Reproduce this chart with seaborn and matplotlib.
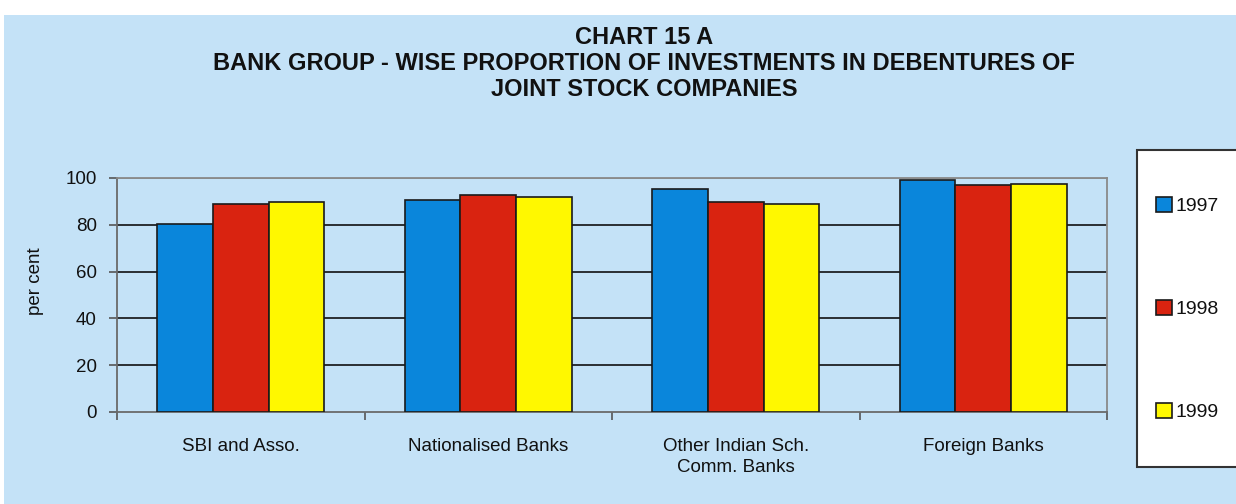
import matplotlib
matplotlib.use("Agg")
import matplotlib.pyplot as plt
from matplotlib.patches import Rectangle
import seaborn as sns
import pandas as pd

groups = ["SBI and Asso.", "Nationalised Banks", "Other Indian Sch.\nComm. Banks", "Foreign Banks"]
years = ["1997", "1998", "1999"]
v1997 = [80.2, 90.4, 95.2, 99.1]
v1998 = [88.7, 92.9, 89.6, 96.9]
v1999 = [89.6, 92.0, 88.9, 97.4]
yticks = [0, 20, 40, 60, 80, 100]

colors = ["#0A86DB", "#D92310", "#FFF800"]
bg = "#C4E2F7"

rows = []
for yr, vals in zip(years, [v1997, v1998, v1999]):
    for g, v in zip(groups, vals):
        rows.append({"group": g, "year": yr, "value": v})
df = pd.DataFrame(rows)

sns.set_theme(style="white")
plt.rcParams["font.family"] = ["Liberation Sans", "DejaVu Sans"]

W, H = 1236, 504
fig = plt.figure(figsize=(W / 100, H / 100), dpi=100, facecolor="white")
fig.patches.append(Rectangle((4 / W, 0), 1, (H - 15) / H, transform=fig.transFigure,
                             facecolor=bg, edgecolor="none", zorder=-10))

ax = fig.add_axes([117 / W, (H - 412) / H, (1107 - 117) / W, (412 - 178) / H])
ax.set_facecolor(bg)

sns.barplot(data=df, x="group", y="value", hue="year", hue_order=years,
            palette=colors, saturation=1, edgecolor="#1a1a1a", linewidth=1.2,
            width=0.675, gap=0, errorbar=None, ax=ax, zorder=3)

ax.set_ylim(0, 100)
ax.set_xlim(-0.5, len(groups) - 0.5)
ax.set_yticks(yticks)
ax.set_yticklabels([str(t) for t in yticks], fontsize=13.5, color="#111111")
ax.yaxis.grid(True, color="#111111", linewidth=1.2, zorder=0)
ax.set_axisbelow(True)
ax.get_ygridlines()[-1].set_color("#888888")
ax.get_ygridlines()[0].set_visible(False)

ax.set_xticks(range(len(groups)))
ax.set_xticklabels(groups, fontsize=13.5, color="#111111", linespacing=1.35)
ax.tick_params(axis="x", which="major", length=0, pad=18.5)
ax.set_xticks([i - 0.5 for i in range(len(groups) + 1)], minor=True)
ax.tick_params(axis="x", which="minor", bottom=True, length=5.5, width=1.2, color="#555555", direction="out")
ax.tick_params(axis="y", left=True, length=5.5, width=1.2, color="#555555", direction="out", pad=9)

for s in ["left", "bottom", "right", "top"]:
    ax.spines[s].set_color("#8a8a8a")
    ax.spines[s].set_linewidth(1.3)
ax.spines["left"].set_color("#6a6a6a")
ax.spines["bottom"].set_color("#6a6a6a")

ax.set_xlabel("")
ax.set_ylabel("per cent", fontsize=13.5, color="#111111")
ax.yaxis.set_label_coords((44 - 117) / 990, (412 - 281) / 234)

# legend panel on the right
fig.patches.append(Rectangle((1137 / W, (H - 467) / H), 0.2, (467 - 150) / H,
                             transform=fig.transFigure, facecolor="white",
                             edgecolor="#333333", linewidth=1.5, zorder=5))
handles, labels = ax.get_legend_handles_labels()
if ax.legend_:
    ax.legend_.remove()
leg = fig.legend(handles, labels, loc="center left", bbox_to_anchor=(1156 / W, (H - 309) / H),
                 frameon=False, fontsize=14, labelspacing=4.36, handlelength=0.8,
                 handleheight=0.8, handletextpad=0.2, borderaxespad=0, borderpad=0)
leg.set_zorder(6)
for t in leg.get_texts():
    t.set_color("#111111")

title_font = ["Liberation Sans Narrow", "Liberation Sans", "DejaVu Sans"]
for txt, yc in [("CHART 15 A", 37), ("BANK GROUP - WISE PROPORTION OF INVESTMENTS IN DEBENTURES OF", 63),
                ("JOINT STOCK COMPANIES", 90)]:
    fig.text(644 / W, (H - yc) / H, txt, ha="center", va="center", fontsize=17,
             fontweight="bold", family=title_font, color="#111111")

fig.savefig("out.png", dpi=100, facecolor=fig.get_facecolor())
